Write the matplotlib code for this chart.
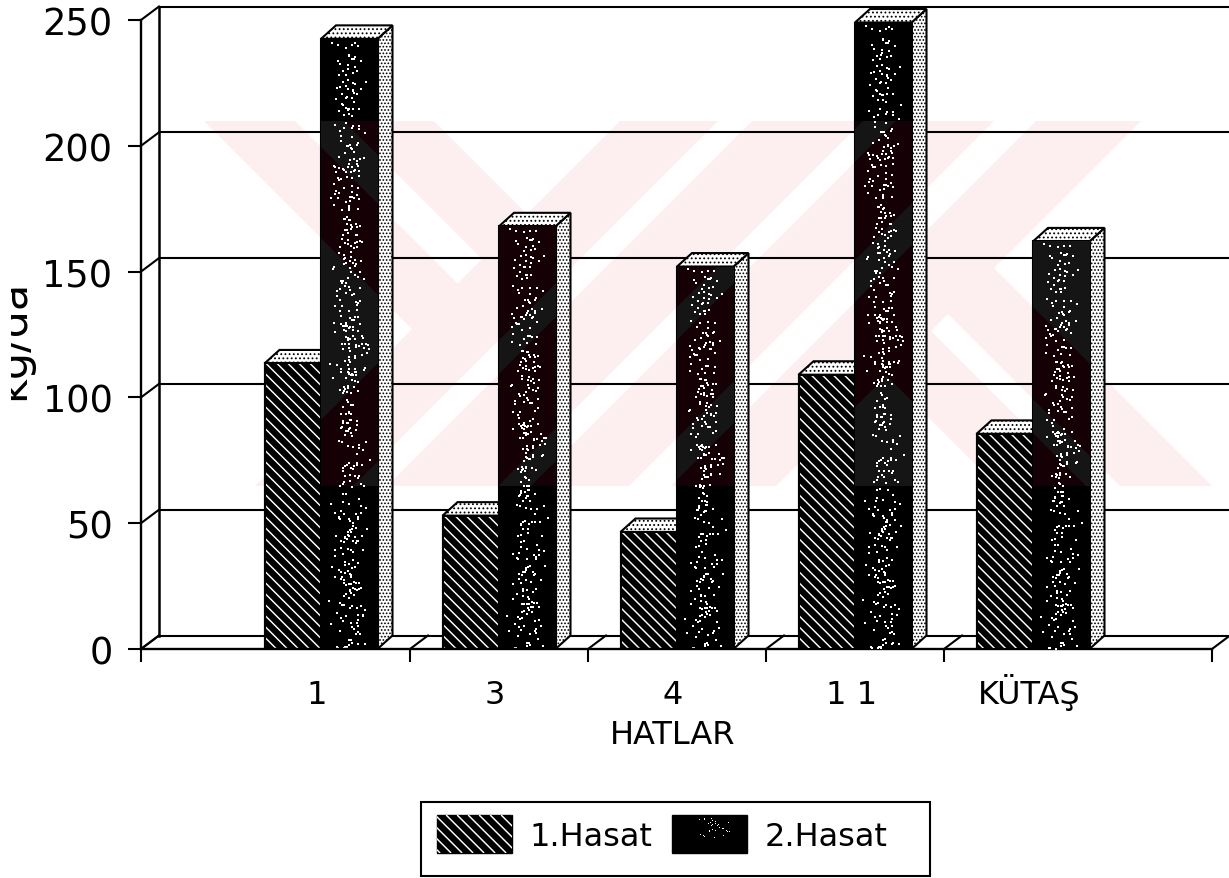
import matplotlib
matplotlib.use("Agg")
import matplotlib.pyplot as plt
import numpy as np
from matplotlib.collections import LineCollection
from matplotlib.patches import Polygon, Rectangle, Patch
from matplotlib.transforms import Affine2D, Bbox

categories = ["1", "3", "4", "1 1", "KÜTAŞ"]
hasat1 = [113.5, 53, 46.5, 109, 85.5]
hasat2 = [242.5, 168, 152, 249, 162]
series_names = ["1.Hasat", "2.Hasat"]
yticks = [0, 50, 100, 150, 200, 250]
xlabel = "HATLAR"
ylabel = "kg/da"

W, H = 1229, 879
plt.rcParams["font.family"] = ["DejaVu Sans"]
plt.rcParams["hatch.linewidth"] = 0.8

fig = plt.figure(figsize=(W / 100, H / 100), dpi=100, facecolor="white")
L, R, T, B = 141, 1212, 21, 650
ax = fig.add_axes([L / W, 1 - B / H, (R - L) / W, (B - T) / H])
STEP, X0 = 178.0, 321.0
ax.set_xlim((L - X0) / STEP, (R - X0) / STEP)
ax.set_ylim(0, 250)
ax.patch.set_visible(False)

px = Affine2D().scale(1, -1).translate(0, H)
PY = (B - T) / 250.0
LW = 1.5

# ---- watermark (figure pixels) ----
BT, BB = 122, 487
def slash(a, b):
    return [(a - BT, BT), (b - BT, BT), (b - BB, BB), (a - BB, BB)]
def back(d1, d2, s_start=None, s_end=None):
    y1a = BT if s_start is None else (s_start + d1) / 2
    y2a = BT if s_start is None else (s_start + d2) / 2
    y1b = BB if s_end is None else (s_end + d1) / 2
    y2b = BB if s_end is None else (s_end + d2) / 2
    return [(y1a - d1, y1a), (y2a - d2, y2a), (y2b - d2, y2b), (y1b - d1, y1b)]
wm = [slash(742, 840), slash(874, 985), slash(1018, 1116), slash(1158, 1263),
      back(-82, -173, None, 790), back(-222, -312, None, 790),
      back(-725, -633, 1210, None), back(-599, -510, 1210, None)]
for w in wm:
    ax.add_patch(Polygon(w, closed=True, transform=px, fc="#fdeef0", ec="none", zorder=0.5, clip_on=False))

# ---- walls ----
DX_W, DY_W = 18 / STEP, 13.5 / PY
DX_B, DY_B = 15 / STEP, 13.5 / PY
x_left, x_right = ax.get_xlim()
x_edge = (W - X0) / STEP
for v in yticks:
    ax.plot([x_left, x_left + DX_W], [v, v + DY_W], color="k", lw=LW, clip_on=False, zorder=2)
    ax.plot([x_left + DX_W, x_edge], [v + DY_W, v + DY_W], color="k", lw=LW, clip_on=False, zorder=2)
ax.plot([x_left + DX_W] * 2, [DY_W, 250 + DY_W], color="k", lw=LW + 0.3, clip_on=False, zorder=2)

xs = np.arange(len(categories))
boundaries = np.concatenate([[x_left], xs[:-1] + 0.5, [x_right]])
for b in boundaries:
    ax.plot([b, b + DX_W], [0, DY_W], color="k", lw=LW, clip_on=False, zorder=2)

ax.set_yticks(yticks)
ax.set_xticks(boundaries)
ax.set_xticklabels([])
ax.set_xticks(xs - 0.022, minor=True)
ax.set_xticklabels(categories, minor=True, fontsize=23)
ax.tick_params(axis="x", which="major", length=9.5, width=LW)
ax.tick_params(axis="x", which="minor", length=0, pad=39)
for tl in ax.get_xticklabels(minor=True):
    tl.set_verticalalignment("baseline")
ax.tick_params(axis="y", length=9.5, width=LW, pad=11, labelsize=26.5)
for s in ("top", "right"):
    ax.spines[s].set_visible(False)
for s in ("left", "bottom"):
    ax.spines[s].set_linewidth(LW + 0.2)
    ax.spines[s].set_zorder(20)

fig.text(673 / W, 1 - 744 / H, xlabel, ha="center", va="baseline", fontsize=23)
yl = fig.text(24 / W, 1 - 340 / H, ylabel, rotation=90, ha="center", va="baseline",
              rotation_mode="anchor", fontsize=31)
yl.set_clip_box(Bbox([[11, 0], [60, H]]))
yl.set_clip_on(True)

# ---- bars ----
BW = 56.5 / STEP

def frac(a):
    return a - np.floor(a)

def speckle(x0, x1, y0, y1, n, z):
    i = np.arange(1, n + 1)
    u = frac(np.sin(i * 12.9898) * 43758.5453)
    v = frac(np.sin(i * 78.233) * 12543.1234)
    w = frac(np.sin(i * 39.425) * 24634.6345)
    sx = x0 + (x1 - x0) * (0.5 + (u - 0.5) * (0.15 + 0.6 * w))
    sy = y0 + (y1 - y0) * v
    ax.scatter(sx, sy, s=0.8, c="white", marker="s", linewidths=0, zorder=z, clip_on=False)

def diag_lines(x0, x1, y0, y1, clip, z, target=ax):
    # x0..y1 are display pixels (y down); white stripes every 11 px
    ds = np.arange(y0 - x1, y1 - x0, 11.0)
    segs = [[(y0 - d, y0), (y1 - d, y1)] for d in ds]
    lc = LineCollection(segs, colors="white", linewidths=1.05, transform=px, zorder=z)
    target.add_collection(lc, autolim=False)
    lc.set_clip_path(clip)

def faces(x, v, z):
    l, r = x, x + BW
    ax.add_patch(Polygon([(r, 0), (r + DX_B, DY_B), (r + DX_B, v + DY_B), (r, v)],
                 closed=True, clip_on=False, zorder=z, fc="white", ec="k", lw=LW, hatch="....."))
    ax.add_patch(Polygon([(l, v), (l + DX_B, v + DY_B), (r + DX_B, v + DY_B), (r, v)],
                 closed=True, clip_on=False, zorder=z, fc="white", ec="k", lw=LW, hatch="...."))

z = 5
for i, x in enumerate(xs):
    l1 = x - BW
    faces(l1, hasat1[i], z)
    b1 = ax.bar(l1, hasat1[i], BW, align="edge", fc="black", ec="black", lw=LW, zorder=z + 1)[0]
    left = X0 + STEP * l1
    right = X0 + STEP * x
    top = B - PY * hasat1[i]
    diag_lines(left, right, top, B, b1, z + 1.1)
    ax.bar(l1, hasat1[i], BW, align="edge", fc="none", ec="black", lw=LW, zorder=z + 1.2)
    z += 2
    faces(x, hasat2[i], z)
    bar = ax.bar(x, hasat2[i], BW, align="edge", fc="black", ec="black", lw=LW, zorder=z + 1)[0]
    band = ax.add_patch(Rectangle((0, BT), W, BB - BT, transform=px, fc="#151515", ec="none", zorder=z + 1.1))
    band.set_clip_path(bar)
    for w in wm:
        p = ax.add_patch(Polygon(w, closed=True, transform=px, fc="#140005", ec="none", zorder=z + 1.2))
        p.set_clip_path(bar)
    speckle(x, x + BW, 0, hasat2[i], int(hasat2[i] * 2.0), z + 1.3)
    z += 3

# ---- legend ----
fig.add_artist(Rectangle((421, 803), 509, 74, transform=px, fc="white", ec="black", lw=LW))
h1 = Patch(fc="black", ec="black")
h2 = Patch(fc="black", ec="black")
leg = fig.legend([h1, h2], series_names, ncol=2, loc="center",
                 bbox_to_anchor=(662.5 / W, 1 - 835 / H), fontsize=23, frameon=False,
                 handlelength=2.35, handleheight=1.45,
                 handletextpad=0.55, columnspacing=0.62, borderpad=0, borderaxespad=0)
fig.canvas.draw()
lp1, lp2 = leg.get_patches()
e = lp1.get_window_extent()
lc = LineCollection([[((H - e.y1) - d, H - e.y1), ((H - e.y0) - d, H - e.y0)]
                     for d in np.arange((H - e.y1) - e.x1, (H - e.y0) - e.x0, 11.0)],
                    colors="white", linewidths=1.05, transform=px, zorder=30)
fig.add_artist(lc)
lc.set_clip_box(e)
e2 = lp2.get_window_extent()
i = np.arange(1, 30)
sx = e2.x0 + e2.width * (0.35 + 0.4 * frac(np.sin(i * 12.9898) * 43758.5453))
sy = e2.y0 + e2.height * (0.4 + 0.5 * frac(np.sin(i * 78.233) * 12543.1234))
for a, b in zip(sx, sy):
    fig.add_artist(Rectangle((a, b), 1, 1, transform=None, fc="white", ec="none", zorder=30))

fig.savefig("out.png", dpi=100, facecolor="white")
